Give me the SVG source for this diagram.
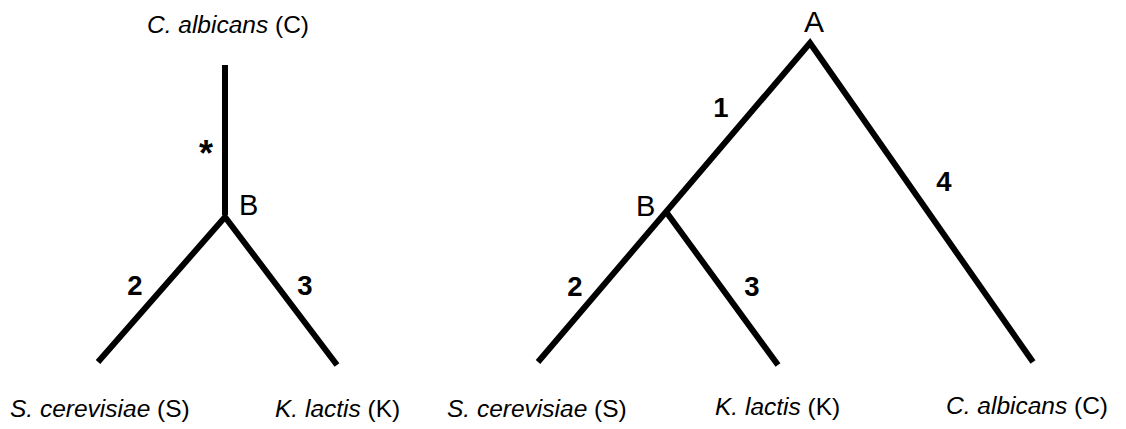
<svg xmlns="http://www.w3.org/2000/svg" width="1126" height="429" viewBox="0 0 1126 429">
<style>
.br{stroke:#000;stroke-width:6;fill:none;stroke-linejoin:miter;stroke-linecap:butt}
.sp{font-family:"Liberation Sans",Arial,sans-serif;font-size:24.5px;fill:#000}
.it{font-style:italic}
.nd{font-family:"Liberation Sans",Arial,sans-serif;font-size:29px;fill:#000}
.bl{font-family:"Liberation Sans",Arial,sans-serif;font-size:27.5px;font-weight:bold;fill:#000;text-anchor:middle}
</style>
<rect width="1126" height="429" fill="#fff"/>
<g id="connectors">
<path class="br" d="M225,65 V215 M98,362 L225,217 L337,365"/>
<path class="br" d="M538,362 L810,43 L1033,362 M667,213 L778,365"/>
<text class="bl" x="206" y="166" style="font-size:36px">*</text>
<text class="bl" x="135" y="295">2</text>
<text class="bl" x="305" y="295">3</text>
<text class="bl" x="721" y="117">1</text>
<text class="bl" x="575" y="296">2</text>
<text class="bl" x="752" y="296">3</text>
<text class="bl" x="944" y="191">4</text>
</g>
<g id="left-C"><text class="sp" x="228" y="33" text-anchor="middle"><tspan class="it">C. albicans</tspan> (C)</text></g>
<g id="left-B"><text class="nd" x="239" y="215">B</text></g>
<g id="left-S"><text class="sp" x="10" y="417"><tspan class="it">S. cerevisiae</tspan> (S)</text></g>
<g id="left-K"><text class="sp" x="275" y="417"><tspan class="it">K. lactis</tspan> (K)</text></g>
<g id="right-A"><text class="nd" x="814" y="32" text-anchor="middle" style="font-size:30px">A</text></g>
<g id="right-B"><text class="nd" x="636" y="216">B</text></g>
<g id="right-S"><text class="sp" x="447" y="417"><tspan class="it">S. cerevisiae</tspan> (S)</text></g>
<g id="right-K"><text class="sp" x="715" y="415"><tspan class="it">K. lactis</tspan> (K)</text></g>
<g id="right-C"><text class="sp" x="946" y="414"><tspan class="it">C. albicans</tspan> (C)</text></g>
</svg>
